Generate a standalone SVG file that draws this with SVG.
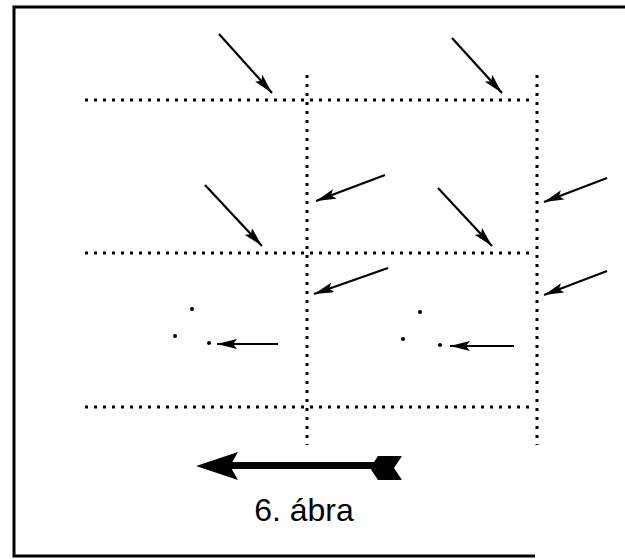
<svg xmlns="http://www.w3.org/2000/svg" width="625" height="559" viewBox="0 0 625 559">
<style>
.frame{fill:none;stroke:#000;stroke-width:3}
.dot{fill:none;stroke:#000;stroke-width:3;stroke-dasharray:3 6}
.arr{fill:none;stroke:#000;stroke-width:2.2;marker-end:url(#head)}
.pt{fill:#000}
.lbl{font-family:"Liberation Sans",Arial,sans-serif;font-size:32px;fill:#000}
</style>
<defs>
<marker id="head" viewBox="0 0 20 10" refX="20" refY="5" markerWidth="20" markerHeight="10" markerUnits="userSpaceOnUse" orient="auto">
<path d="M0,0 L20,5 L0,10 L4,5 Z" fill="#000"/>
</marker>
</defs>
<g id="frame">
<path class="frame" d="M625,7 L14,7 L14,556 L535,556"/>
</g>
<g id="grid">
<line class="dot" x1="85" y1="100" x2="535" y2="100"/>
<line class="dot" x1="85" y1="253" x2="535" y2="253"/>
<line class="dot" x1="85" y1="407" x2="535" y2="407"/>
<line class="dot" x1="307" y1="75" x2="307" y2="445"/>
<line class="dot" x1="537" y1="75" x2="537" y2="445"/>
</g>
<g id="dots">
<circle class="pt" cx="192" cy="309" r="2"/>
<circle class="pt" cx="175" cy="336" r="2"/>
<circle class="pt" cx="209" cy="343" r="2"/>
<circle class="pt" cx="420" cy="312" r="2"/>
<circle class="pt" cx="403" cy="339" r="2"/>
<circle class="pt" cx="440" cy="345" r="2"/>
</g>
<g id="connectors">
<line class="arr" x1="219" y1="34" x2="272" y2="93"/>
<line class="arr" x1="452" y1="38" x2="502" y2="93"/>
<line class="arr" x1="205" y1="185" x2="262" y2="246"/>
<line class="arr" x1="438" y1="188" x2="492" y2="246"/>
<line class="arr" x1="385" y1="175" x2="316" y2="201"/>
<line class="arr" x1="607" y1="178" x2="544" y2="202"/>
<line class="arr" x1="388" y1="268" x2="314" y2="294"/>
<line class="arr" x1="607" y1="271" x2="544" y2="295"/>
<line class="arr" x1="278" y1="344" x2="217" y2="344"/>
<line class="arr" x1="514" y1="346" x2="450" y2="346"/>
</g>
<g id="bigarrow">
<rect x="225" y="462" width="155" height="7" fill="#000"/>
<path d="M196,466 L238,452 L230,466 L238,480 Z" fill="#000"/>
<path d="M378,456 L402,456 L394,468 L402,480 L378,480 L370,468 Z" fill="#000"/>
</g>
<g id="caption">
<text class="lbl" x="304" y="521" text-anchor="middle">6. ábra</text>
</g>
</svg>
